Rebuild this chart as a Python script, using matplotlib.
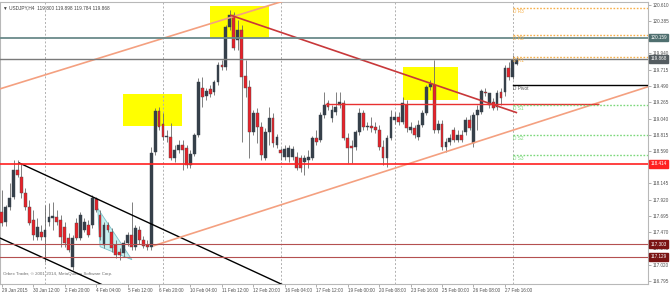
import matplotlib
matplotlib.use("Agg")
import matplotlib.pyplot as plt
from matplotlib.patches import Rectangle, Polygon
import numpy as np

plt.rcParams['font.family'] = ['Liberation Sans', 'DejaVu Sans']

# USDJPY H4, 29 Jan 2015 04:00 .. 2 Mar 2015 04:00 (one bar per 4 hours)
opens = [117.75, 117.61, 117.82, 117.96, 118.33, 118.23, 118.01, 117.82, 117.64, 117.40,
         117.47, 117.40, 117.61, 117.67, 117.68, 117.64, 117.54, 117.39, 116.99, 117.60,
         117.39, 117.50, 117.57, 117.57, 117.93, 117.71, 117.29, 117.57, 117.47, 117.29,
         117.20, 117.18, 117.32, 117.43, 117.27, 117.50, 117.36, 117.29, 117.27, 118.58,
         119.15, 118.97, 118.79, 118.79, 118.50, 118.61, 118.68, 118.63, 118.40, 118.55,
         118.81, 119.46, 119.35, 119.45, 119.41, 119.55, 119.78, 119.75, 120.31, 120.47,
         120.13, 120.26, 119.63, 119.48, 118.86, 119.12, 118.92, 118.50, 118.86, 119.05,
         118.68, 118.61, 118.51, 118.51, 118.51, 118.51, 118.50, 118.44, 118.47, 118.50,
         118.77, 118.74, 119.09, 119.26, 119.05, 119.13, 119.23, 119.26, 118.77, 118.66,
         118.65, 118.86, 119.12, 118.92, 118.94, 118.92, 118.88, 118.65, 118.50, 118.77,
         119.02, 119.06, 118.99, 119.23, 118.88, 118.91, 118.79, 118.95, 119.12, 119.48,
         119.50, 118.88, 118.97, 118.65, 118.72, 118.88, 118.74, 118.81, 118.86, 119.02,
         118.70, 119.09, 119.13, 119.41, 119.23, 119.27, 119.20, 119.41, 119.41, 119.74,
         119.61, 119.800]
highs = [118.05, 117.85, 118.15, 118.47, 118.47, 118.43, 118.08, 117.91, 117.78, 117.67,
         117.57, 117.85, 117.87, 117.89, 117.78, 117.71, 117.61, 117.46, 117.43, 117.67,
         117.75, 117.67, 117.64, 117.98, 117.96, 117.78, 117.61, 117.61, 117.53, 117.36,
         117.25, 117.36, 117.47, 117.89, 117.57, 117.56, 117.42, 117.36, 118.65, 119.19,
         119.20, 119.12, 118.88, 118.98, 118.68, 118.74, 118.74, 118.68, 118.61, 118.84,
         119.60, 119.61, 119.46, 119.50, 119.57, 119.82, 119.85, 120.33, 120.54, 120.51,
         120.40, 120.33, 119.85, 119.57, 119.16, 119.19, 118.99, 118.91, 119.20, 119.12,
         118.83, 118.63, 118.68, 118.68, 118.66, 118.58, 118.54, 118.54, 118.61, 118.80,
         118.88, 119.13, 119.41, 119.30, 119.23, 119.41, 119.41, 119.30, 118.84, 118.74,
         118.88, 119.19, 119.16, 118.99, 119.06, 118.99, 118.95, 118.74, 118.81, 119.16,
         119.13, 119.13, 119.34, 119.30, 118.99, 118.95, 119.02, 119.16, 119.50, 119.57,
         119.85, 119.02, 119.02, 118.77, 118.83, 118.92, 118.88, 118.88, 119.06, 119.09,
         119.13, 119.23, 119.45, 119.46, 119.37, 119.33, 119.44, 119.46, 119.78, 119.82,
         119.92, 119.898]
lows = [117.56, 117.56, 117.78, 117.93, 118.23, 117.94, 117.78, 117.57, 117.36, 117.36,
        117.36, 117.06, 117.56, 117.50, 117.57, 117.27, 117.27, 117.20, 116.95, 117.36,
        117.36, 117.47, 117.40, 117.53, 117.75, 117.36, 117.25, 117.47, 117.20, 117.11,
        117.09, 117.13, 117.28, 117.22, 117.22, 117.31, 117.25, 117.22, 117.22, 118.54,
        118.88, 118.74, 118.72, 118.47, 118.44, 118.56, 118.33, 118.36, 118.36, 118.52,
        118.79, 119.20, 119.30, 119.34, 119.37, 119.50, 119.71, 119.71, 120.26, 119.99,
        119.99, 118.72, 119.34, 118.50, 118.81, 118.70, 118.47, 118.47, 118.68, 118.65,
        118.63, 118.47, 118.47, 118.44, 118.47, 118.33, 118.30, 118.26, 118.36, 118.47,
        118.68, 118.72, 119.05, 119.16, 118.99, 119.09, 119.19, 118.74, 118.43, 118.43,
        118.61, 118.81, 118.88, 118.88, 118.86, 118.84, 118.61, 118.40, 118.37, 118.74,
        118.97, 118.95, 118.97, 118.86, 118.84, 118.77, 118.74, 118.92, 119.09, 119.44,
        118.84, 118.84, 118.61, 118.58, 118.68, 118.72, 118.72, 118.72, 118.81, 118.88,
        118.65, 118.88, 119.10, 119.35, 119.19, 119.16, 119.16, 119.23, 119.35, 119.57,
        119.59, 119.784]
closes = [117.60, 117.82, 117.94, 118.33, 118.26, 118.01, 117.82, 117.60, 117.43, 117.54,
          117.40, 117.50, 117.68, 117.69, 117.61, 117.40, 117.32, 117.22, 117.39, 117.39,
          117.71, 117.61, 117.43, 117.94, 117.78, 117.40, 117.57, 117.50, 117.25, 117.16,
          117.16, 117.32, 117.43, 117.27, 117.53, 117.36, 117.28, 117.27, 118.56, 119.15,
          118.92, 118.79, 118.80, 118.50, 118.61, 118.68, 118.61, 118.40, 118.55, 118.81,
          119.55, 119.34, 119.42, 119.38, 119.55, 119.78, 119.75, 120.31, 120.47, 120.02,
          120.26, 119.61, 119.46, 118.86, 119.12, 118.92, 118.54, 118.86, 119.05, 118.70,
          118.79, 118.56, 118.62, 118.63, 118.62, 118.36, 118.36, 118.50, 118.51, 118.77,
          118.72, 119.09, 119.23, 119.20, 119.16, 119.20, 119.27, 118.77, 118.63, 118.63,
          118.86, 119.12, 118.92, 118.94, 118.91, 118.88, 118.65, 118.50, 118.77, 119.06,
          119.06, 118.99, 119.26, 118.91, 118.92, 118.81, 118.95, 119.12, 119.48, 119.52,
          118.88, 118.97, 118.65, 118.72, 118.77, 118.74, 118.81, 118.74, 119.02, 118.91,
          119.09, 119.16, 119.42, 119.39, 119.39, 119.19, 119.39, 119.33, 119.74, 119.61,
          119.85, 119.868]

# time axis
time_labels = ["29 Jan 2015", "30 Jan 12:00", "2 Feb 20:00", "4 Feb 04:00", "5 Feb 12:00",
               "6 Feb 20:00", "10 Feb 04:00", "11 Feb 12:00", "12 Feb 20:00", "16 Feb 04:00",
               "17 Feb 12:00", "19 Feb 00:00", "20 Feb 08:00", "23 Feb 16:00", "25 Feb 00:00",
               "26 Feb 08:00", "27 Feb 16:00"]
time_label_bars = [0, 8, 16, 24, 32, 40, 48, 56, 64, 72, 80, 88, 96, 104, 112, 120, 128]
week_start_bars = [11, 41, 71, 100, 130]

# price axis
price_ticks = [120.610, 120.385, 119.940, 119.715, 119.490, 119.265, 119.040, 118.815,
               118.590, 118.365, 118.145, 117.920, 117.695, 117.470, 117.245, 117.020, 116.795]

# horizontal lines with price boxes
hline_prices = [120.159, 119.868, 118.414, 117.303, 117.129]
hline_colors = ["#6a8a8a", "#7a7a7a", "#ff2020", "#b45050", "#b45050"]
hline_widths = [1.3, 1.0, 1.2, 0.8, 0.8]
hline_box_colors = ["#4f6f6f", "#545c60", "#ff2020", "#7a1414", "#7a1414"]

# daily pivots for 2 Mar
pivot_names = ["D R3", "D R2", "D R1", "D Pivot", "D S1", "D S2", "D S3"]
pivot_prices = [120.57, 120.19, 119.89, 119.50, 119.23, 118.81, 118.54]
pivot_colors = ["#f7b04a", "#f7b04a", "#f7b04a", "black", "#7ad87a", "#7ad87a", "#7ad87a"]
pivot_start_bar = 130

# trend lines: (bar, price) -> (bar, price)
trend_lines = [
    ((4.3, 118.43), (74.0, 116.68), "black", 1.0),
    ((-0.5, 117.39), (26.5, 116.72), "black", 1.0),
    ((-0.5, 119.45), (72.0, 120.67), "#f4a080", 1.2),
    ((38.5, 117.28), (164.4, 119.48), "#f4a080", 1.2),
    ((58.1, 120.47), (131.1, 119.12), "#c8383a", 1.2),
    ((82.2, 119.24), (152.0, 119.24), "#e83030", 1.0),
]

# yellow boxes: bar from, bar to, price low, price high
box_bar0 = [30.8, 53.0, 102.1]
box_bar1 = [45.9, 68.0, 116.1]
box_low = [118.94, 120.15, 119.30]
box_high = [119.38, 120.60, 119.75]

# triangle
tri_bars = [24.4, 33.1, 25.0]
tri_prices = [117.80, 117.09, 117.27]

fig = plt.figure(figsize=(6.7, 2.92), dpi=100)
ax = fig.add_axes([0, 8 / 292, 648 / 670, 282 / 292])
ax.set_xlim(-0.46, 164.4)
ax.set_ylim(116.754, 120.651)

for b0, b1, lo, hi in zip(box_bar0, box_bar1, box_low, box_high):
    ax.add_patch(Rectangle((b0, lo), b1 - b0, hi - lo, color="#ffff00", zorder=0.5, lw=0))

ax.add_patch(Polygon(list(zip(tri_bars, tri_prices)), closed=True, facecolor="#c8f0f0",
                     edgecolor="#7cc0c8", lw=0.6, zorder=2.5))

for b in week_start_bars:
    ax.axvline(b, color="#b0b0b0", lw=0.7, ls=(0, (2, 2)), zorder=0.6)

# candles
idx = np.arange(len(opens))
o = np.array(opens)
c = np.array(closes)
up = c >= o
ax.vlines(idx, lows, highs, color="#6a6a6a", lw=0.6, zorder=3)
ax.bar(idx[up], np.maximum((c - o)[up], 0.004), bottom=o[up], width=0.72,
       color="#36404a", edgecolor="#36404a", lw=0.3, zorder=4)
ax.bar(idx[~up], (o - c)[~up], bottom=c[~up], width=0.72,
       color="#e8222a", edgecolor="#4a4a4a", lw=0.3, zorder=4)

for (p0, p1, col, lw) in trend_lines:
    ax.plot([p0[0], p1[0]], [p0[1], p1[1]], color=col, lw=lw, zorder=5, solid_capstyle="butt")

for price, col, lw, box in zip(hline_prices, hline_colors, hline_widths, hline_box_colors):
    ax.axhline(price, color=col, lw=lw, zorder=5)
    ax.annotate(f"{price:.3f}", xy=(1.0, price), xycoords=("axes fraction", "data"),
                xytext=(1.6, 0), textcoords="offset points", fontsize=3.3, color="white",
                va="center", ha="left", annotation_clip=False, zorder=10,
                bbox=dict(boxstyle="square,pad=0.3", fc=box, ec=box))

for name, price, col in zip(pivot_names, pivot_prices, pivot_colors):
    if name == "D Pivot":
        ax.plot([pivot_start_bar, 164.4], [price, price], color=col, lw=1.0, zorder=5)
        tcol = "#505050"
    else:
        ax.plot([pivot_start_bar, 164.4], [price, price], color=col, lw=1.0,
                ls=(0, (1.2, 1.2)), zorder=5)
        tcol = col
    ax.text(pivot_start_bar + 0.1, price - 0.015, name, fontsize=3.4, color=tcol,
            va="top", ha="left", zorder=6)

# axes look
for s in ax.spines.values():
    s.set_color("#b8b8b8")
    s.set_linewidth(0.8)
ax.yaxis.tick_right()
ax.set_yticks(price_ticks)
ax.set_yticklabels([f"{p:.3f}" for p in price_ticks])
ax.tick_params(axis="y", length=2, width=0.5, color="#909090", labelsize=3.3,
               labelcolor="#505050", pad=1.2)
ax.set_xticks(time_label_bars)
ax.set_xticklabels(time_labels, ha="left")
ax.tick_params(axis="x", length=2, width=0.5, color="#909090", labelsize=3.3,
               labelcolor="#505050", pad=0.8)

ax.text(0.004, 0.988, "\u25bc USDJPY,H4  119.800 119.898 119.784 119.868", transform=ax.transAxes,
        fontsize=3.4, color="#404040", va="top", ha="left")
ax.text(0.004, 0.03, "Orbex Trader, \u00a9 2001-2014, MetaQuotes Software Corp.",
        transform=ax.transAxes, fontsize=3.2, color="#707070", va="bottom", ha="left")

fig.savefig("out.png", dpi=100)
